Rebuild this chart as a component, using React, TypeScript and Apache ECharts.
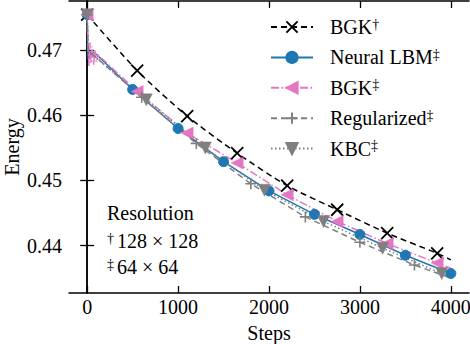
import React, { useEffect, useRef } from 'react';
import * as echarts from 'echarts';

const xTickValues = [0, 1000, 2000, 3000, 4000];
const yTickValues = [0.44, 0.45, 0.46, 0.47];

// BGK (128x128)
const bgkHiSteps = [0, 550, 1100, 1650, 2200, 2750, 3300, 3850, 4000];
const bgkHiEnergy = [0.4755, 0.4669, 0.4599, 0.4542, 0.4492, 0.4455, 0.4419, 0.4388, 0.4378];
const bgkHiMarks = [0, 550, 1100, 1650, 2200, 2750, 3300, 3850];

// Neural LBM (64x64)
const neuralSteps = [0, 6, 12, 18, 25, 35, 50, 70, 100, 500, 1000, 1500, 2000, 2500, 3000, 3500, 4000];
const neuralEnergy = [0.4755, 0.4700, 0.4686, 0.4702, 0.4689, 0.4699, 0.4692, 0.4697, 0.4694, 0.4640, 0.4580, 0.4529, 0.4484, 0.4448, 0.4417, 0.4385, 0.4357];
const neuralMarks = [0, 500, 1000, 1500, 2000, 2500, 3000, 3500, 4000];

// BGK (64x64)
const bgkLoSteps = [0, 10, 20, 30, 42, 55, 70, 85, 100, 120, 140, 160, 550, 1100, 1650, 2200, 2750, 3300, 3850, 4000];
const bgkLoEnergy = [0.4755, 0.4705, 0.4676, 0.4712, 0.4680, 0.4706, 0.4678, 0.4700, 0.4682, 0.4694, 0.4684, 0.4688, 0.4637, 0.4573, 0.4527, 0.4478, 0.4437, 0.4403, 0.4373, 0.4365];
const bgkLoMarks = [0, 550, 1100, 1650, 2200, 2750, 3300, 3850];

// Regularized (64x64)
const regSteps = [0, 10, 600, 1200, 1800, 2400, 3000, 3600, 4000];
const regEnergy = [0.4755, 0.4700, 0.4628, 0.4557, 0.4495, 0.4444, 0.4405, 0.4370, 0.4350];
const regMarks = [0, 600, 1200, 1800, 2400, 3000, 3600];

// KBC (64x64)
const kbcSteps = [0, 10, 650, 1300, 1950, 2600, 3250, 3900, 4000];
const kbcEnergy = [0.4755, 0.4699, 0.4624, 0.4550, 0.4485, 0.4437, 0.4396, 0.4357, 0.4351];
const kbcMarks = [0, 650, 1300, 1950, 2600, 3250, 3900];

const FONT = 'Times New Roman, Liberation Serif, DejaVu Serif, serif';

function pts(steps: number[], energy: number[], marks: number[]) {
  return steps.map((s, i) => {
    const d: any = { value: [s, energy[i]] };
    if (!marks.includes(s)) d.symbol = 'none';
    return d;
  });
}

export default function App() {
  const ref = useRef<HTMLDivElement>(null);
  useEffect(() => {
    if (!ref.current) return;
    const chart = echarts.init(ref.current, undefined, { renderer: 'svg' });
    const axisLine = { show: true, lineStyle: { color: '#000', width: 1.5 } };
    const tick = { show: true, inside: true, length: 7, lineStyle: { color: '#000', width: 1.3 } };
    const lineBase = {
      type: 'line',
      showAllSymbol: true,
      emphasis: { disabled: true },
      silent: true,
      xAxisIndex: 0,
      yAxisIndex: 0,
    };
    const option: any = {
      animation: false,
      backgroundColor: '#fff',
      textStyle: { fontFamily: FONT },
      grid: { left: 69, right: 1, top: 1, bottom: 51, outerBoundsMode: 'none', containLabel: false },
      xAxis: [
        {
          type: 'value', min: -200, max: 4200, position: 'bottom',
          axisLine, axisTick: { ...tick, customValues: xTickValues },
          splitLine: { show: false },
          axisLabel: { customValues: xTickValues, color: '#000', fontFamily: FONT, fontSize: 20, margin: 4, formatter: (v: number) => String(v) },
          name: 'Steps', nameLocation: 'middle', nameGap: 30, nameMoveOverlap: false,
          nameTextStyle: { color: '#000', fontFamily: FONT, fontSize: 20 },
        },
        {
          type: 'value', min: -200, max: 4200, position: 'top',
          axisLine, axisTick: { ...tick, customValues: xTickValues },
          splitLine: { show: false }, axisLabel: { show: false },
        },
      ],
      yAxis: [
        {
          type: 'value', min: 0.4327, max: 0.4776, position: 'left',
          axisLine, axisTick: { ...tick, customValues: yTickValues },
          splitLine: { show: false },
          axisLabel: { customValues: yTickValues, color: '#000', fontFamily: FONT, fontSize: 20, margin: 7, formatter: (v: number) => v.toFixed(2) },
        },
        {
          type: 'value', min: 0.4327, max: 0.4776, position: 'right',
          axisLine, axisTick: { ...tick, customValues: yTickValues },
          splitLine: { show: false }, axisLabel: { show: false },
        },
      ],
      legend: {
        orient: 'vertical', left: 265, top: 12, itemWidth: 42, itemHeight: 14, itemGap: 10.4,
        selectedMode: false,
        data: ['BGK†', 'Neural LBM‡', 'BGK‡', 'Regularized‡', 'KBC‡'],
        formatter: (name: string) => `{a|${name.slice(0, -1)}}{s|${name.slice(-1)}}`,
        textStyle: {
          color: '#000', fontFamily: FONT, fontSize: 20, padding: [0, 0, 0, 12],
          rich: {
            a: { color: '#000', fontFamily: FONT, fontSize: 20, lineHeight: 20 },
            s: { color: '#000', fontFamily: FONT, fontSize: 14, lineHeight: 12, verticalAlign: 'top' },
          },
        },
      },
      graphic: [
        {
          type: 'text', x: 11.5, y: 147, rotation: Math.PI / 2,
          style: { text: 'Energy', fontFamily: FONT, fontSize: 20, fill: '#000', align: 'center', verticalAlign: 'middle' },
        },
        { type: 'text', x: 107, y: 213, style: { text: 'Resolution', fontFamily: FONT, fontSize: 20, fill: '#000', verticalAlign: 'middle' } },
        {
          type: 'text', x: 107, y: 241,
          style: {
            text: '{s|†}{a|128 × 128}', verticalAlign: 'middle', fill: '#000', fontFamily: FONT,
            rich: {
              a: { fontFamily: FONT, fontSize: 20, lineHeight: 20, fill: '#000', padding: [0, 0, 0, 3] },
              s: { fontFamily: FONT, fontSize: 14, lineHeight: 12, verticalAlign: 'top', fill: '#000' },
            },
          },
        },
        {
          type: 'text', x: 107, y: 267,
          style: {
            text: '{s|‡}{a|64 × 64}', verticalAlign: 'middle', fill: '#000', fontFamily: FONT,
            rich: {
              a: { fontFamily: FONT, fontSize: 20, lineHeight: 20, fill: '#000', padding: [0, 0, 0, 3] },
              s: { fontFamily: FONT, fontSize: 14, lineHeight: 12, verticalAlign: 'top', fill: '#000' },
            },
          },
        },
      ],
      series: [
        {
          ...lineBase, name: 'BGK†', data: pts(bgkHiSteps, bgkHiEnergy, bgkHiMarks),
          smooth: 0.25,
          symbol: 'path://M0,0L10,10M10,0L0,10', symbolSize: 12,
          lineStyle: { color: '#000', width: 1.5, type: [6, 4] },
          itemStyle: { color: '#000', borderColor: '#000', borderWidth: 1.8 },
        },
        {
          ...lineBase, name: 'Neural LBM‡', data: pts(neuralSteps, neuralEnergy, neuralMarks),
          symbol: 'circle', symbolSize: 10,
          lineStyle: { color: '#1f77b4', width: 1.5, type: 'solid' },
          itemStyle: { color: '#1f77b4', borderColor: '#1f77b4', borderWidth: 1 },
        },
        {
          ...lineBase, name: 'BGK‡', data: pts(bgkLoSteps, bgkLoEnergy, bgkLoMarks),
          symbol: 'path://M0,5L10,0L10,10Z', symbolSize: 12,
          lineStyle: { color: '#e377c2', width: 1.5, type: [8, 2.5, 1.5, 2.5] },
          itemStyle: { color: '#e377c2', borderColor: '#e377c2', borderWidth: 0.5 },
        },
        {
          ...lineBase, name: 'Regularized‡', data: pts(regSteps, regEnergy, regMarks),
          symbol: 'path://M5,0L5,10M0,5L10,5', symbolSize: 11,
          lineStyle: { color: '#7f7f7f', width: 1.5, type: [6, 4] },
          itemStyle: { color: '#7f7f7f', borderColor: '#7f7f7f', borderWidth: 1.6 },
        },
        {
          ...lineBase, name: 'KBC‡', data: pts(kbcSteps, kbcEnergy, kbcMarks),
          symbol: 'path://M0,0L10,0L5,10Z', symbolSize: 12,
          lineStyle: { color: '#7f7f7f', width: 1.5, type: [1.5, 2.5] },
          itemStyle: { color: '#7f7f7f', borderColor: '#7f7f7f', borderWidth: 0.5 },
        },
      ],
    };
    chart.setOption(option);
    return () => chart.dispose();
  }, []);
  return (
    <div
      ref={ref}
      style={{ position: 'fixed', left: 0, top: 0, width: 470, height: 344, background: '#fff' }}
    />
  );
}
